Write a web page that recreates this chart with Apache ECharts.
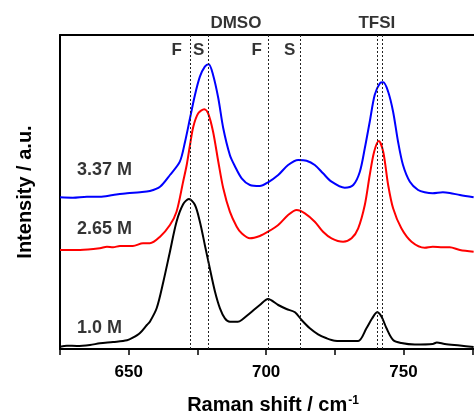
<!DOCTYPE html>
<html>
<head>
<meta charset="utf-8">
<script src="https://cdn.jsdelivr.net/npm/echarts@6/dist/echarts.min.js"></script>
<style>
html, body { margin: 0; padding: 0; background: #fff; }
#myChart { width: 474px; height: 414px; }
</style>
</head>
<body>
<div id="myChart"></div>
<script>
// spectra: [Raman shift, intensity a.u.]
var spec337 = [[625.0,151.7],[629.7,151.3],[634.8,152.3],[639.5,152.3],[644.3,154],[649.4,155.7],[654.1,156.7],[657.7,158],[661.4,162.3],[665.0,174],[668.6,187.3],[670.5,207.3],[672.3,230.7],[674.1,254],[675.9,272.3],[677.7,282.3],[679.1,284.7],[680.7,274],[682.6,250.7],[684.4,220.7],[686.8,194],[688.6,183],[691.1,170.7],[694.1,164],[697.7,163],[700.7,166.7],[704.4,174],[708.0,184],[711.7,189],[714.7,188.3],[717.7,184],[720.7,175.7],[723.8,167.3],[728.6,161.3],[731.7,164],[734.1,177.3],[735.9,200.7],[737.7,227.3],[739.5,254],[741.4,265.7],[742.6,266.7],[744.4,257.3],[746.2,237.3],[748.0,207.3],[749.8,184],[752.3,167.3],[755.3,159],[757.7,156.7],[760.6,155.7],[764.3,156.7],[766.8,156],[770.5,154],[775.5,151.7]];
var spec265 = [[625.0,99],[632.3,99],[639.5,100.7],[642.1,102.3],[644.3,101.7],[646.8,103],[651.5,103],[655.2,105.7],[657.7,105.7],[661.4,112.3],[665.0,124],[667.4,137.3],[669.8,167.3],[671.1,184],[672.3,204],[673.5,222.3],[675.3,235.7],[677.5,239.7],[678.9,235.7],[680.7,217.3],[682.6,187.3],[684.4,160.7],[686.8,137.3],[689.3,122.3],[691.1,115.7],[694.1,110.7],[697.7,113],[700.7,117.3],[704.4,124],[708.0,134],[711.1,139],[714.1,135.7],[717.7,127.3],[720.7,117.3],[723.8,110.7],[728.0,107.3],[731.1,110.7],[733.5,120.7],[735.9,144],[737.7,174],[739.3,197.3],[741.0,208],[742.6,197.3],[744.4,164],[746.2,140.7],[749.2,120.7],[752.9,107.3],[757.7,101.3],[760.6,102.3],[764.3,101.7],[766.8,101.7],[770.5,99],[775.5,97.3]];
var spec10 = [[625.0,2.3],[627.5,3.3],[631.2,3],[635.9,4],[639.5,5.7],[644.3,7],[649.4,8.7],[651.5,11.3],[654.1,16],[656.6,24],[657.7,27.3],[660.2,41],[662.6,67.3],[665.0,97.3],[667.4,127.3],[669.8,144.7],[671.9,150],[674.1,144],[675.9,127.3],[677.7,104],[679.5,80.7],[681.4,57.3],[683.2,40.7],[685.0,30.7],[686.8,27.3],[689.7,27.3],[691.1,29],[694.1,35.7],[697.7,44],[700.7,50],[704.4,44],[707.4,40],[710.5,36.7],[712.9,29],[715.9,20.7],[718.9,14.7],[722.0,10.7],[725.0,8.3],[729.8,8],[733.5,8],[736.5,20.7],[738.6,30.7],[740.4,36.7],[742.0,32.3],[743.8,20.7],[746.2,9],[749.2,6],[754.1,4.5],[760.6,5],[762.1,6.5],[765.0,5],[770.5,3.5],[775.5,2]];

// band positions (dotted lines)
var bandLines = [672.3, 679.0, 700.9, 712.3, 740.6, 742.1];
// annotations: [x, y, text]
var bandLabels = [[689, 326, 'DMSO'], [740.3, 326, 'TFSI'], [667.5, 299, 'F'], [675.5, 299, 'S'], [696.6, 299, 'F'], [708.6, 299, 'S']];
var concLabels = [[631.2, 179, '3.37 M'], [631.2, 120, '2.65 M'], [631.2, 21, '1.0 M']];

var font = 'Liberation Sans, Arial, sans-serif';
var myChart = echarts.init(document.getElementById('myChart'));

var option = {
	animation: false,
	grid: { left: 60, right: -12, top: 35, bottom: 65, outerBoundsMode: 'none', containLabel: false },
	xAxis: [{
		type: 'value',
		min: 625,
		max: 780,
		interval: 25,
		name: '{t|Raman shift / cm}{s|-1}',
		nameLocation: 'middle',
		nameGap: 46,
		nameTextStyle: {
			rich: {
				t: { fontSize: 20, fontWeight: 'bold', fontFamily: font, color: '#000' },
				s: { fontSize: 12, fontWeight: 'bold', fontFamily: font, color: '#000', verticalAlign: 'top', padding: [0, 0, 9, 1] }
			}
		},
		axisLine: { lineStyle: { color: '#000', width: 2 } },
		axisTick: { inside: false, length: 6, lineStyle: { color: '#000', width: 1.5 } },
		axisLabel: {
			margin: 15,
			fontSize: 17,
			fontWeight: 'bold',
			fontFamily: font,
			color: '#000',
			formatter: function (v) {
				return (v % 50 === 0) ? v : '';
			}
		},
		splitLine: { show: false }
	}, {
		type: 'value',
		position: 'top',
		min: 625,
		max: 780,
		axisLine: { lineStyle: { color: '#000', width: 2 } },
		axisTick: { show: false },
		axisLabel: { show: false },
		splitLine: { show: false }
	}],
	yAxis: {
		type: 'value',
		min: 0,
		max: 314,
		name: 'Intensity / a.u.',
		nameLocation: 'middle',
		nameGap: 25,
		nameTextStyle: { fontSize: 20, fontWeight: 'bold', fontFamily: font, color: '#000' },
		axisLine: { show: true, lineStyle: { color: '#000', width: 2 } },
		axisTick: { show: false },
		axisLabel: { show: false },
		splitLine: { show: false }
	},
	series: [
		{
			name: '1.0 M',
			type: 'line',
			data: spec10,
			showSymbol: false,
			smooth: 0.3,
			lineStyle: { color: '#000', width: 2 },
			markLine: {
				silent: true,
				symbol: 'none',
				label: { show: false },
				lineStyle: { color: '#222', type: [2, 2], width: 1 },
				data: bandLines.map(function (x) { return { xAxis: x }; })
			}
		},
		{
			name: '2.65 M',
			type: 'line',
			data: spec265,
			showSymbol: false,
			smooth: 0.3,
			lineStyle: { color: '#ff0000', width: 2 }
		},
		{
			name: '3.37 M',
			type: 'line',
			data: spec337,
			showSymbol: false,
			smooth: 0.3,
			lineStyle: { color: '#0000ff', width: 2 }
		},
		{
			type: 'scatter',
			data: bandLabels,
			symbolSize: 0,
			clip: false,
			label: {
				show: true,
				position: 'inside',
				fontSize: 17,
				fontWeight: 'bold',
				fontFamily: font,
				color: '#000',
				formatter: function (p) { return p.value[2]; }
			}
		},
		{
			type: 'scatter',
			data: concLabels,
			symbolSize: 0,
			label: {
				show: true,
				position: 'right',
				distance: 0,
				fontSize: 18,
				fontWeight: 'bold',
				fontFamily: font,
				color: '#000',
				formatter: function (p) { return p.value[2]; }
			}
		}
	]
};
myChart.setOption(option, true);
</script>
</body>
</html>
